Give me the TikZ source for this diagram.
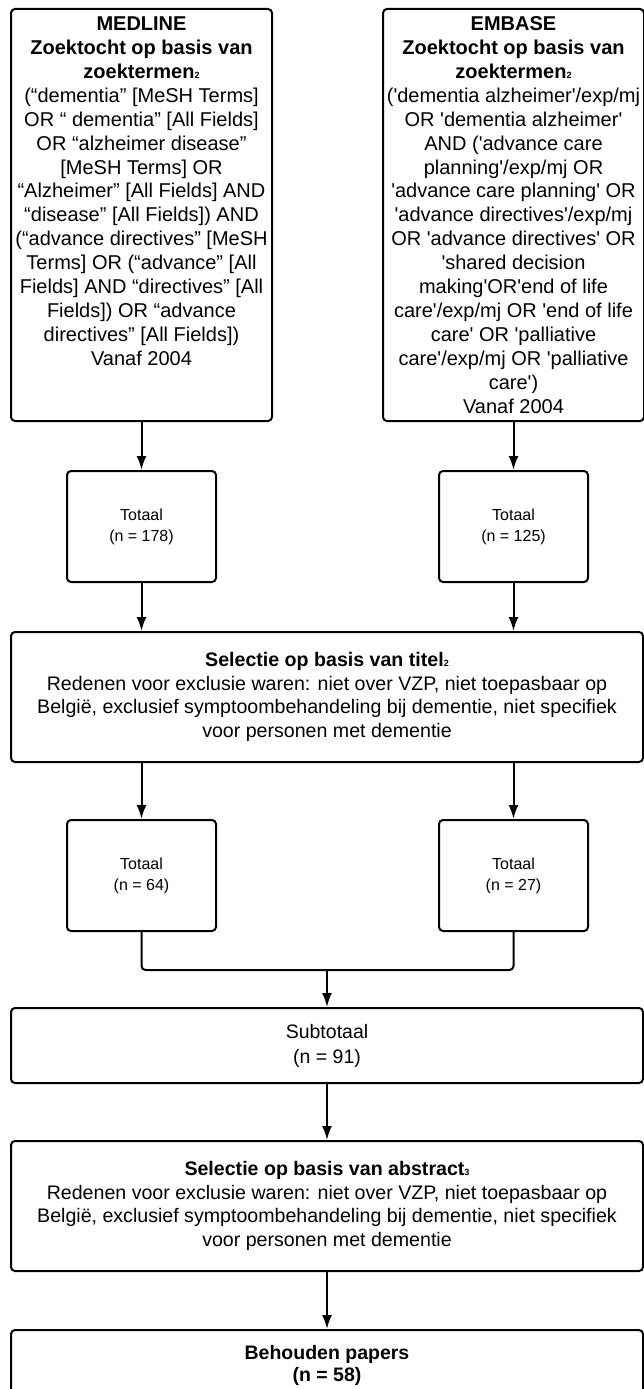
\documentclass[tikz,border=0pt]{standalone}
\usepackage{fontspec}
\setmainfont{Liberation Sans}[Ligatures=TeXOff]
\usetikzlibrary{positioning, arrows.meta}
\newcommand{\fnref}[1]{{\fontsize{9}{9}\selectfont #1}}

\begin{document}
\begin{tikzpicture}[%
        >={Latex[length=14pt, width=10pt]},
        node distance=48pt,          % Gap between stacked boxes
        every node/.style={font=\fontsize{19.6}{23.7}\selectfont},
    ]
    \tikzset{
        base/.style={draw, line width=2pt, rounded corners=4pt, align=center, inner xsep=0pt, inner ysep=0pt},
        src/.style={base, minimum width=261pt, minimum height=412pt, font=\fontsize{20}{23.9}\selectfont},
        cnt/.style={base, minimum width=149pt, minimum height=111pt, font=\fontsize{16}{21}\selectfont},
        wide/.style={base, minimum width=632pt, minimum height=130pt},
        % -------------------------------------------------
        % Connector line styles
        norm/.style={->, draw, line width=2pt},
        link/.style={draw, line width=2pt, rounded corners=4pt},
    }
    \useasboundingbox (0pt,0pt) rectangle (644pt,-1389pt);
    %%% Blocks
    \node [src, anchor=north west] (med) at (10pt,-8pt) {
        \textbf{MEDLINE}\\
        \textbf{Zoektocht op basis van}\\
        \textbf{zoektermen\fnref{2}}\\
        (“dementia” [MeSH Terms]\\
        OR “ dementia” [All Fields]\\
        OR “alzheimer disease”\\\relax
        [MeSH Terms] OR\\
        “Alzheimer” [All Fields] AND\\
        “disease” [All Fields]) AND\\
        (“advance directives” [MeSH\\
        Terms] OR (“advance” [All\\
        Fields] AND “directives” [All\\
        Fields]) OR “advance\\
        directives” [All Fields])\\
        Vanaf 2004\\ \mbox{}\\ \mbox{}
    };
    \node [src, anchor=north west] (emb) at (382pt,-8pt) {
        \textbf{EMBASE}\\
        \textbf{Zoektocht op basis van}\\
        \textbf{zoektermen\fnref{2}}\\
        ('dementia alzheimer'/exp/mj\\
        OR 'dementia alzheimer'\\
        AND ('advance care\\
        planning'/exp/mj OR\\
        'advance care planning' OR\\
        'advance directives'/exp/mj\\
        OR 'advance directives' OR\\
        'shared decision\\
        making'OR'end of life\\
        care'/exp/mj OR 'end of life\\
        care' OR 'palliative\\
        care'/exp/mj OR 'palliative\\
        care')\\
        Vanaf 2004
    };
    \node [cnt, below=of med] (tot178) {Totaal\\ (n = 178)};
    \node [cnt, below=of emb] (tot125) {Totaal\\ (n = 125)};
    \node [wide, anchor=north west] (titel) at ([yshift=-48pt] tot178.south -| med.west) {
        \textbf{Selectie op basis van titel\fnref{2}}\\
        Redenen voor exclusie waren: niet over VZP, niet toepasbaar op\\
        België, exclusief symptoombehandeling bij dementie, niet specifiek\\
        voor personen met dementie
    };
    \node [cnt, anchor=north] (tot64) at ([yshift=-56pt] titel.south -| tot178) {Totaal\\ (n = 64)};
    \node [cnt, anchor=north] (tot27) at ([yshift=-56pt] titel.south -| tot125) {Totaal\\ (n = 27)};
    \node [wide, minimum height=75pt, anchor=north, font=\fontsize{19.5}{25}\selectfont] (sub)
        at ([yshift=-75pt] tot64.south -| titel.south) {Subtotaal\\ (n = 91)};
    \node [wide, below=56pt of sub] (abs) {
        \textbf{Selectie op basis van abstract\fnref{3}}\\
        Redenen voor exclusie waren: niet over VZP, niet toepasbaar op\\
        België, exclusief symptoombehandeling bij dementie, niet specifiek\\
        voor personen met dementie
    };
    \node [wide, minimum height=70pt, below=57pt of abs, font=\fontsize{19.5}{22}\selectfont] (keep) {
        \textbf{Behouden papers}\\
        \textbf{(n = 58)}
    };
    %%% Nodes
    \coordinate (join) at ([yshift=-38pt] tot64.south -| sub.north);
    %%% Connectors
    \draw [norm] (med.south) -- (tot178.north);
    \draw [norm] (emb.south) -- (tot125.north);
    \draw [norm] (tot178.south) -- (tot178.south |- titel.north);
    \draw [norm] (tot125.south) -- (tot125.south |- titel.north);
    \draw [norm] (titel.south -| tot64.north) -- (tot64.north);
    \draw [norm] (titel.south -| tot27.north) -- (tot27.north);
    % -- merge both counts
    \draw [link] (tot64.south) |- (join) -| (tot27.south);
    \draw [norm] (join) -- (sub.north);
    \draw [norm] (sub.south) -- (abs.north);
    \draw [norm] (abs.south) -- (keep.north);
\end{tikzpicture}
\end{document}
